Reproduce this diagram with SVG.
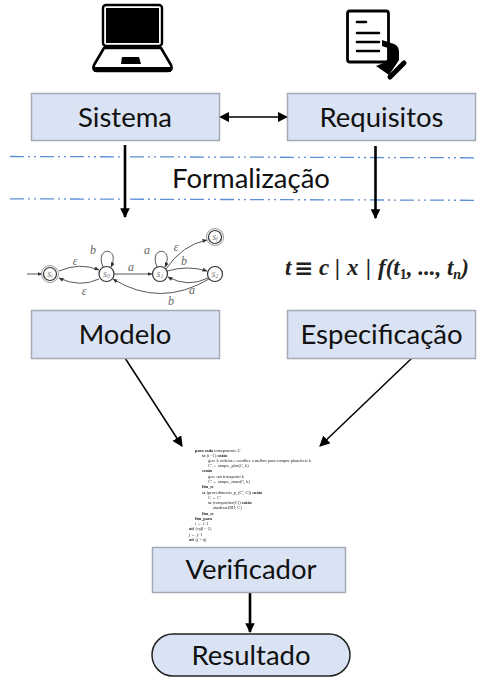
<svg xmlns="http://www.w3.org/2000/svg" width="484" height="678" viewBox="0 0 484 678">
<style>
.box{fill:#dae3f3;stroke:#a3aab5;stroke-width:1.5}
.lbl{font-family:Lato,"Open Sans",sans-serif;font-size:27.500px;fill:#111;text-anchor:middle}
.dash{stroke:#5b8fd6;stroke-width:1.3;fill:none;stroke-dasharray:14 4 2 4 2 4}
.arr{stroke:#000;stroke-width:2.6;fill:none}
.thin{stroke:#000;stroke-width:1.5;fill:none}
.st{fill:#fff;stroke:#333;stroke-width:1.2}
.st2{fill:none;stroke:#999;stroke-width:1}
.e{fill:none;stroke:#444;stroke-width:.9}
.t{font-family:"Liberation Serif",serif;font-style:italic;font-size:12px;fill:#666;text-anchor:middle}
.s{font-family:"Liberation Serif",serif;font-style:italic;font-size:10px;fill:#777;text-anchor:middle}
.c{font-family:"Liberation Serif",serif;font-size:4.300px;fill:#222}
.f{font-family:"Liberation Serif",serif;font-style:italic;font-weight:700;font-size:23px;fill:#222}
</style>
<defs>
<marker id="a" viewBox="0 0 10 10" refX="9" refY="5" markerWidth="3.700" markerHeight="3.700" orient="auto-start-reverse"><path d="M0 0L10 5L0 10Z" fill="#000"/></marker>
<marker id="b" viewBox="0 0 10 10" refX="9" refY="5" markerWidth="7" markerHeight="7" orient="auto-start-reverse"><path d="M0 0L10 5L0 10Z" fill="#000"/></marker>
<marker id="c" markerUnits="userSpaceOnUse" viewBox="0 0 10 10" refX="9" refY="5" markerWidth="5" markerHeight="5" orient="auto"><path d="M0 1L10 5L0 9Z" fill="#333"/></marker>
<filter id="soft" x="-5%" y="-5%" width="110%" height="110%"><feGaussianBlur stdDeviation="0.35"/></filter>
</defs>

<g id="icon-laptop">
<rect x="103" y="5" width="59" height="41" rx="3" fill="#fff" stroke="#000" stroke-width="2.4"/>
<rect x="106" y="8" width="53" height="35" fill="#000"/>
<path d="M104 48L94 65Q92 71 97 71H168Q173 71 171 65L161 48Z" fill="#fff" stroke="#000" stroke-width="2.6" stroke-linejoin="round"/>
<path d="M94 67H171V72H94Z" fill="#000"/>
<path d="M122 57H139L141 64H121Z" fill="#000"/>
</g>
<g id="icon-doc">
<rect x="347.500" y="11" width="41" height="51" rx="2.500" fill="#fff" stroke="#000" stroke-width="2.800"/>
<path d="M357 22H366M357 33H379M357 42H379M357 51H379" stroke="#000" stroke-width="2.600" stroke-linecap="round"/>
<path d="M382 40L394 44Q399 46 399 52V60L389 75L376 66L386 62L390 54L388 48L382 46Z" fill="#000"/>
<path d="M390 77L404 63" stroke="#000" stroke-width="5" stroke-linecap="round"/>
</g>

<g id="divider">
<path class="dash" d="M10 156.500L476 157.800"/>
<path class="dash" d="M10 198.800L476 200.300"/>
</g>

<g id="connectors">
<path class="thin" d="M220 117H287" marker-start="url(#b)" marker-end="url(#b)"/>
<path class="arr" d="M125 145V217" marker-end="url(#a)"/>
<path class="arr" d="M375.500 146V218" marker-end="url(#a)"/>
<path class="thin" d="M125 358L182 446" marker-end="url(#b)"/>
<path class="thin" d="M412 358L320 446" marker-end="url(#b)"/>
<path class="arr" d="M250 592V632" marker-end="url(#a)"/>
</g>

<g id="sistema"><rect class="box" x="31.500" y="93.500" width="188" height="47"/><text class="lbl" x="125" y="127">Sistema</text></g>
<g id="requisitos"><rect class="box" x="287.500" y="93.500" width="188" height="47"/><text class="lbl" x="381.500" y="127">Requisitos</text></g>
<g id="formalizacao"><text class="lbl" x="251" y="188">Formalização</text></g>

<g id="automato">
<g class="edges">
<path class="e" d="M27 274H42" marker-end="url(#c)"/>
<path class="e" d="M59 271Q80 262 99 270" marker-end="url(#c)"/>
<path class="e" d="M99 279Q80 288 59 278" marker-end="url(#c)"/>
<path class="e" d="M103 267C94 246 121 246 111 267" marker-end="url(#c)"/>
<path class="e" d="M114 274H152" marker-end="url(#c)"/>
<path class="e" d="M157 267C148 246 175 246 165 267" marker-end="url(#c)"/>
<path class="e" d="M166 269Q182 245 207 240" marker-end="url(#c)"/>
<path class="e" d="M167 271Q188 265 207 271" marker-end="url(#c)"/>
<path class="e" d="M208 278Q188 288 168 277" marker-end="url(#c)"/>
<path class="e" d="M209 279Q160 308 113 279" marker-end="url(#c)"/>
</g>
<g id="si"><circle class="st2" cx="50" cy="274" r="8.500"/><circle class="st" cx="50" cy="274" r="6.500"/><text class="s" x="50" y="277">s<tspan font-size="6" dy="1">i</tspan></text></g>
<g id="s0"><circle class="st" cx="106.500" cy="274" r="7.500"/><text class="s" x="106.500" y="277">s<tspan font-size="6" dy="1">0</tspan></text></g>
<g id="s1"><circle class="st" cx="160" cy="274" r="7.500"/><text class="s" x="160" y="277">s<tspan font-size="6" dy="1">1</tspan></text></g>
<g id="s2"><circle class="st" cx="215" cy="274" r="7.500"/><text class="s" x="215" y="277">s<tspan font-size="6" dy="1">2</tspan></text></g>
<g id="sf"><circle class="st2" cx="215" cy="237" r="8.500"/><circle class="st" cx="215" cy="237" r="6.500"/><text class="s" x="215" y="240">s<tspan font-size="6" dy="1">f</tspan></text></g>
<text class="t" x="75" y="265">ε</text><text class="t" x="84" y="295">ε</text>
<text class="t" x="93" y="254">b</text><text class="t" x="131" y="271">a</text>
<text class="t" x="147" y="254">a</text><text class="t" x="176" y="251">ε</text>
<text class="t" x="184" y="265">b</text><text class="t" x="192" y="294">a</text><text class="t" x="171" y="305">b</text>
</g>

<g id="formula">
<text class="f" x="285" y="275">t</text>
<text x="294" y="276" font-family="DejaVu Sans,sans-serif" font-size="23" font-weight="700" fill="#222">≡</text>
<text class="f" x="319" y="275">c</text>
<text class="f" x="335" y="275" font-style="normal">|</text>
<text class="f" x="347" y="275">x</text>
<text class="f" x="366" y="275" font-style="normal">|</text>
<text class="f" x="378" y="275">f(t<tspan font-size="14" dy="4" font-style="normal">1</tspan><tspan dy="-4">, ..., t</tspan><tspan font-size="14" dy="4">n</tspan><tspan dy="-4">)</tspan></text>
</g>

<g id="modelo"><rect class="box" x="31.500" y="310.500" width="188" height="48"/><text class="lbl" x="125" y="344">Modelo</text></g>
<g id="especificacao"><rect class="box" x="287.500" y="310.500" width="188" height="48"/><text class="lbl" x="381.500" y="344">Especificação</text></g>

<g id="pseudocodigo" filter="url(#soft)">
<text class="c" x="195" y="451.500"><tspan font-weight="700">para cada</tspan> transponente <tspan font-style="italic">C</tspan></text>
<text class="c" x="202" y="456.500"><tspan font-weight="700">se</tspan> (i =1) <tspan font-weight="700">então</tspan></text>
<text class="c" x="208" y="461.500">gere k cadeias e escolher a melhor para compor plausíveis k</text>
<text class="c" x="208" y="466.500">C' ← ataque_plus(C, k)</text>
<text class="c" x="202" y="472" font-weight="700">senão</text>
<text class="c" x="208" y="477.500">gere um transposto k</text>
<text class="c" x="208" y="482.500">C' ← ataque_trans(C, k)</text>
<text class="c" x="202" y="488" font-weight="700">fim_se</text>
<text class="c" x="202" y="493.500"><tspan font-weight="700">se</tspan> (procedimento_p_(C', C)) <tspan font-weight="700">então</tspan></text>
<text class="c" x="208" y="498.500">C ← C'</text>
<text class="c" x="208" y="503.500"><tspan font-weight="700">se</tspan> (compositor(C)) <tspan font-weight="700">então</tspan></text>
<text class="c" x="213" y="508.500">atualizar(BH, C)</text>
<text class="c" x="202" y="514.500" font-weight="700">fim_se</text>
<text class="c" x="195" y="519.500" font-weight="700">fim_para</text>
<text class="c" x="195" y="524.500">i ← i+1</text>
<text class="c" x="189" y="530"><tspan font-weight="700">até</tspan> (cyβ = 1)</text>
<text class="c" x="189" y="535.500">j ← j+1</text>
<text class="c" x="189" y="541"><tspan font-weight="700">até</tspan> (j &gt; q)</text>
</g>

<g id="verificador"><rect class="box" x="152.500" y="547.500" width="193" height="45"/><text class="lbl" x="251" y="579">Verificador</text></g>
<g id="resultado"><rect x="152" y="634" width="198" height="42" rx="21" fill="#dae3f3" stroke="#222" stroke-width="1.500"/><text class="lbl" x="251" y="665">Resultado</text></g>
</svg>
